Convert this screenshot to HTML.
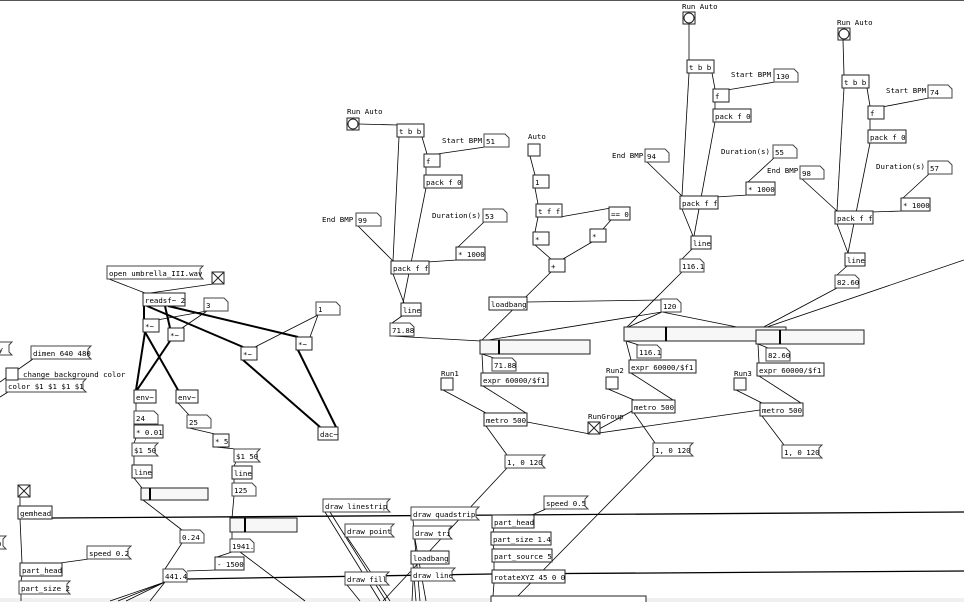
<!DOCTYPE html>
<html><head><meta charset="utf-8"><style>
html,body{margin:0;padding:0;background:#fff}
svg{display:block}
text{font-family:"DejaVu Sans Mono","Liberation Mono",monospace;font-size:7.4px;fill:#000}
.o{fill:#fff;stroke:#222;stroke-width:1}
.m{fill:#fff;stroke:#444;stroke-width:1}
.w{stroke:#000;stroke-width:0.8;fill:none}
.s{stroke:#000;stroke-width:2;fill:none}
.sl{fill:#f7f7f7;stroke:#222;stroke-width:1}
</style></head><body>
<svg width="964" height="602" viewBox="0 0 964 602" xmlns="http://www.w3.org/2000/svg">
<rect x="0" y="0" width="964" height="602" fill="#fff"/>
<line x1="0" y1="0.5" x2="964" y2="0.5" stroke="#555" stroke-width="1"/>
<rect x="0" y="598" width="964" height="4" fill="#f0f0f0"/>

<g class="w">
<line x1="359" y1="124" x2="398" y2="125"/>
<line x1="399" y1="137" x2="393" y2="261"/>
<line x1="422" y1="137" x2="427" y2="154"/>
<line x1="485" y1="147" x2="437" y2="154"/>
<line x1="426" y1="167" x2="426" y2="175"/>
<line x1="426" y1="188" x2="403" y2="303"/>
<line x1="358" y1="226" x2="393" y2="261"/>
<line x1="484" y1="222" x2="458" y2="247"/>
<line x1="457" y1="260" x2="427" y2="262"/>
<line x1="393" y1="274" x2="404" y2="303"/>
<line x1="402" y1="316" x2="392" y2="323"/>
<line x1="391" y1="336" x2="481" y2="341"/>
<line x1="530" y1="156" x2="535" y2="175"/>
<line x1="535" y1="188" x2="538" y2="204"/>
<line x1="538" y1="217" x2="535" y2="232"/>
<line x1="560" y1="217" x2="611" y2="208"/>
<line x1="611" y1="220" x2="603" y2="229"/>
<line x1="535" y1="245" x2="551" y2="259"/>
<line x1="592" y1="242" x2="563" y2="259"/>
<line x1="551" y1="272" x2="482" y2="340"/>
<line x1="527" y1="302" x2="661" y2="300"/>
<line x1="662" y1="312" x2="482" y2="341"/>
<line x1="662" y1="312" x2="626" y2="328"/>
<line x1="662" y1="312" x2="757" y2="331"/>
<line x1="482" y1="354" x2="494" y2="358"/>
<line x1="482" y1="354" x2="483" y2="373"/>
<line x1="483" y1="386" x2="526" y2="413"/>
<line x1="443" y1="390" x2="486" y2="413"/>
<line x1="486" y1="426" x2="507" y2="455"/>
<line x1="527" y1="422" x2="590" y2="434"/>
<line x1="590" y1="434" x2="634" y2="410"/>
<line x1="592" y1="434" x2="760" y2="410"/>
<line x1="507" y1="468" x2="383" y2="601"/>
<line x1="655" y1="456" x2="513" y2="601"/>
<line x1="689" y1="24" x2="689" y2="60"/>
<line x1="689" y1="73" x2="682" y2="196"/>
<line x1="712" y1="73" x2="715" y2="89"/>
<line x1="775" y1="82" x2="727" y2="90"/>
<line x1="715" y1="102" x2="715" y2="109"/>
<line x1="715" y1="122" x2="694" y2="236"/>
<line x1="647" y1="162" x2="682" y2="196"/>
<line x1="774" y1="158" x2="748" y2="182"/>
<line x1="748" y1="195" x2="716" y2="197"/>
<line x1="682" y1="209" x2="693" y2="236"/>
<line x1="692" y1="249" x2="682" y2="259"/>
<line x1="682" y1="272" x2="626" y2="328"/>
<line x1="626" y1="341" x2="639" y2="345"/>
<line x1="626" y1="341" x2="631" y2="360"/>
<line x1="631" y1="373" x2="673" y2="400"/>
<line x1="608" y1="389" x2="634" y2="400"/>
<line x1="634" y1="413" x2="655" y2="443"/>
<line x1="843" y1="40" x2="844" y2="75"/>
<line x1="844" y1="88" x2="837" y2="211"/>
<line x1="867" y1="88" x2="870" y2="106"/>
<line x1="929" y1="98" x2="882" y2="107"/>
<line x1="870" y1="119" x2="870" y2="130"/>
<line x1="870" y1="143" x2="848" y2="253"/>
<line x1="802" y1="179" x2="837" y2="211"/>
<line x1="929" y1="174" x2="903" y2="198"/>
<line x1="903" y1="211" x2="871" y2="212"/>
<line x1="837" y1="224" x2="848" y2="253"/>
<line x1="847" y1="266" x2="837" y2="275"/>
<line x1="837" y1="288" x2="758" y2="330"/>
<line x1="758" y1="344" x2="768" y2="348"/>
<line x1="758" y1="344" x2="759" y2="363"/>
<line x1="759" y1="376" x2="801" y2="403"/>
<line x1="736" y1="390" x2="762" y2="403"/>
<line x1="762" y1="416" x2="784" y2="445"/>
<line x1="964" y1="260" x2="758" y2="330"/>
<line x1="109" y1="279" x2="145" y2="293"/>
<line x1="213" y1="284" x2="150" y2="293"/>
<line x1="207" y1="311" x2="157" y2="320"/>
<line x1="207" y1="311" x2="182" y2="328"/>
<line x1="318" y1="315" x2="255" y2="347"/>
<line x1="318" y1="315" x2="310" y2="337"/>
<line x1="136" y1="403" x2="136" y2="411"/>
<line x1="178" y1="403" x2="189" y2="415"/>
<line x1="136" y1="438" x2="134" y2="443"/>
<line x1="134" y1="456" x2="134" y2="465"/>
<line x1="134" y1="478" x2="142" y2="488"/>
<line x1="143" y1="500" x2="182" y2="530"/>
<line x1="189" y1="428" x2="215" y2="434"/>
<line x1="215" y1="447" x2="236" y2="449"/>
<line x1="236" y1="462" x2="234" y2="466"/>
<line x1="234" y1="479" x2="234" y2="483"/>
<line x1="234" y1="496" x2="232" y2="518"/>
<line x1="232" y1="532" x2="232" y2="539"/>
<line x1="232" y1="552" x2="217" y2="557"/>
<line x1="240" y1="552" x2="305" y2="601"/>
<line x1="182" y1="543" x2="165" y2="569"/>
<line x1="216" y1="570" x2="187" y2="571"/>
<line x1="165" y1="582" x2="110" y2="601"/>
<line x1="165" y1="582" x2="118" y2="601"/>
<line x1="165" y1="582" x2="126" y2="601"/>
<line x1="165" y1="582" x2="150" y2="601"/>
<line x1="33" y1="359" x2="0" y2="382"/>
<line x1="8" y1="392" x2="0" y2="397"/>
<line x1="20" y1="497" x2="20" y2="506"/>
<line x1="20" y1="519" x2="22" y2="563"/>
<line x1="89" y1="559" x2="60" y2="563"/>
<line x1="22" y1="576" x2="21" y2="581"/>
<line x1="21" y1="594" x2="21" y2="601"/>
<line x1="325" y1="512" x2="380" y2="601"/>
<line x1="330" y1="512" x2="386" y2="601"/>
<line x1="347" y1="537" x2="390" y2="601"/>
<line x1="347" y1="585" x2="360" y2="601"/>
<line x1="413" y1="520" x2="420" y2="601"/>
<line x1="415" y1="539" x2="426" y2="601"/>
<line x1="413" y1="564" x2="416" y2="601"/>
<line x1="413" y1="581" x2="412" y2="601"/>
<line x1="546" y1="509" x2="532" y2="515"/>
<line x1="494" y1="528" x2="493" y2="532"/>
<line x1="493" y1="545" x2="494" y2="549"/>
<line x1="494" y1="562" x2="494" y2="570"/>
<line x1="494" y1="583" x2="493" y2="596"/>
</g>
<g stroke="#000" stroke-width="1.3" fill="none">
<line x1="52" y1="518" x2="964" y2="512"/>
<line x1="187" y1="579" x2="492" y2="574"/>
<line x1="492" y1="574" x2="964" y2="571"/>
</g>
<g class="s">
<line x1="144" y1="306" x2="144" y2="319"/>
<line x1="165" y1="306" x2="170" y2="328"/>
<line x1="147" y1="306" x2="243" y2="347"/>
<line x1="168" y1="306" x2="298" y2="337"/>
<line x1="145" y1="332" x2="136" y2="390"/>
<line x1="145" y1="332" x2="178" y2="390"/>
<line x1="170" y1="341" x2="137" y2="390"/>
<line x1="243" y1="360" x2="320" y2="427"/>
<line x1="298" y1="350" x2="336" y2="427"/>
</g>

<g class="o">
<rect x="397" y="124" width="27" height="13"/><rect x="424" y="154" width="16" height="13"/><rect x="424" y="175" width="38" height="13"/><rect x="456" y="247" width="29" height="13"/><rect x="391" y="261" width="38" height="13"/><rect x="401" y="303" width="20" height="13"/>
<rect x="533" y="175" width="16" height="13"/><rect x="536" y="204" width="26" height="13"/><rect x="609" y="207" width="21" height="13"/><rect x="533" y="232" width="16" height="13"/><rect x="590" y="229" width="16" height="13"/><rect x="549" y="259" width="16" height="13"/><rect x="489" y="297" width="38" height="13"/><rect x="481" y="373" width="67" height="13"/><rect x="484" y="413" width="43" height="13"/>
<rect x="687" y="60" width="27" height="13"/><rect x="713" y="89" width="16" height="13"/><rect x="713" y="109" width="38" height="13"/><rect x="746" y="182" width="29" height="13"/><rect x="680" y="196" width="38" height="13"/><rect x="691" y="236" width="20" height="13"/><rect x="629" y="360" width="67" height="13"/><rect x="632" y="400" width="43" height="13"/>
<rect x="842" y="75" width="27" height="13"/><rect x="868" y="106" width="16" height="13"/><rect x="868" y="130" width="38" height="13"/><rect x="901" y="198" width="29" height="13"/><rect x="835" y="211" width="38" height="13"/><rect x="845" y="253" width="20" height="13"/><rect x="757" y="363" width="67" height="13"/><rect x="760" y="403" width="43" height="13"/>
<rect x="143" y="293" width="42" height="13"/><rect x="143" y="319" width="16" height="13"/><rect x="168" y="328" width="16" height="13"/><rect x="241" y="347" width="16" height="13"/><rect x="296" y="337" width="16" height="13"/><rect x="318" y="427" width="20" height="13"/><rect x="134" y="390" width="22" height="13"/><rect x="176" y="390" width="22" height="13"/><rect x="134" y="425" width="29" height="13"/><rect x="132" y="465" width="20" height="13"/><rect x="213" y="434" width="16" height="13"/><rect x="232" y="466" width="20" height="13"/><rect x="215" y="557" width="29" height="13"/><rect x="18" y="506" width="34" height="13"/><rect x="20" y="563" width="42" height="13"/><rect x="411" y="551" width="38" height="13"/><rect x="492" y="515" width="42" height="13"/><rect x="491" y="532" width="60" height="13"/><rect x="492" y="549" width="60" height="13"/><rect x="492" y="570" width="73" height="13"/><rect x="491" y="596" width="155" height="13"/>
</g>
<g class="m">
<polygon points="484,134 505,134 509,138 509,147 484,147"/>
<polygon points="356,213 377,213 381,217 381,226 356,226"/>
<polygon points="483,209 503,209 507,213 507,222 483,222"/>
<polygon points="390,323 410,323 414,327 414,336 390,336"/>
<polygon points="661,299 677,299 681,303 681,312 661,312"/>
<polygon points="492,358 512,358 516,362 516,371 492,371"/>
<polygon points="774,69 794,69 798,73 798,82 774,82"/>
<polygon points="645,149 665,149 669,153 669,162 645,162"/>
<polygon points="773,145 793,145 797,149 797,158 773,158"/>
<polygon points="680,259 700,259 704,263 704,272 680,272"/>
<polygon points="637,345 657,345 661,349 661,358 637,358"/>
<polygon points="928,85 948,85 952,89 952,98 928,98"/>
<polygon points="800,166 820,166 824,170 824,179 800,179"/>
<polygon points="928,161 948,161 952,165 952,174 928,174"/>
<polygon points="835,275 855,275 859,279 859,288 835,288"/>
<polygon points="766,348 786,348 790,352 790,361 766,361"/>
<polygon points="204,298 224,298 228,302 228,311 204,311"/>
<polygon points="316,302 336,302 340,306 340,315 316,315"/>
<polygon points="134,411 154,411 158,415 158,424 134,424"/>
<polygon points="187,415 207,415 211,419 211,428 187,428"/>
<polygon points="232,483 252,483 256,487 256,496 232,496"/>
<polygon points="230,539 250,539 254,543 254,552 230,552"/>
<polygon points="180,530 200,530 204,534 204,543 180,543"/>
<polygon points="163,569 183,569 187,573 187,582 163,582"/>
</g>
<g class="m">
<polygon points="107,266 203,266 200,269 200,276 203,279 107,279"/>
<polygon points="505,455 545,455 542,458 542,465 545,468 505,468"/>
<polygon points="653,443 693,443 690,446 690,453 693,456 653,456"/>
<polygon points="782,445 822,445 819,448 819,455 822,458 782,458"/>
<polygon points="31,346 91,346 88,349 88,356 91,359 31,359"/>
<polygon points="6,379 86,379 83,382 83,389 86,392 6,392"/>
<polygon points="-10,342 12,342 9,345 9,352 12,355 -10,355"/>
<polygon points="-10,536 6,536 3,539 3,546 6,549 -10,549"/>
<polygon points="132,443 158,443 155,446 155,453 158,456 132,456"/>
<polygon points="234,449 260,449 257,452 257,459 260,462 234,462"/>
<polygon points="87,546 131,546 128,549 128,556 131,559 87,559"/>
<polygon points="19,581 70,581 67,584 67,591 70,594 19,594"/>
<polygon points="323,499 390,499 387,502 387,509 390,512 323,512"/>
<polygon points="345,524 394,524 391,527 391,534 394,537 345,537"/>
<polygon points="345,572 389,572 386,575 386,582 389,585 345,585"/>
<polygon points="411,507 479,507 476,510 476,517 479,520 411,520"/>
<polygon points="413,526 452,526 449,529 449,536 452,539 413,539"/>
<polygon points="411,568 455,568 452,571 452,578 455,581 411,581"/>
<polygon points="544,496 588,496 585,499 585,506 588,509 544,509"/>
</g>
<g>
<rect class="sl" x="480" y="340" width="110" height="14"/><line x1="499" y1="340" x2="499" y2="354" stroke="#000" stroke-width="2"/>
<rect class="sl" x="624" y="327" width="162" height="14"/><line x1="666" y1="327" x2="666" y2="341" stroke="#000" stroke-width="2"/>
<rect class="sl" x="756" y="330" width="108" height="14"/><line x1="780" y1="330" x2="780" y2="344" stroke="#000" stroke-width="2"/>
<rect class="sl" x="141" y="488" width="67" height="12"/><line x1="150" y1="488" x2="150" y2="500" stroke="#000" stroke-width="2"/>
<rect class="sl" x="230" y="518" width="67" height="14"/><line x1="245" y1="518" x2="245" y2="532" stroke="#000" stroke-width="2"/>
</g>
<g fill="#fff" stroke="#222">
<rect x="347" y="118" width="12" height="12"/><circle cx="353" cy="124" r="5"/>
<rect x="683" y="12" width="12" height="12"/><circle cx="689" cy="18" r="5"/>
<rect x="838" y="28" width="12" height="12"/><circle cx="844" cy="34" r="5"/>
<rect x="528" y="144" width="12" height="12"/>
<rect x="441" y="378" width="12" height="12"/>
<rect x="606" y="377" width="12" height="12"/>
<rect x="734" y="378" width="12" height="12"/>
<rect x="588" y="422" width="12" height="12"/><path d="M588,422 L600,434 M600,422 L588,434"/>
<rect x="212" y="272" width="12" height="12"/><path d="M212,272 L224,284 M224,272 L212,284"/>
<rect x="6" y="368" width="12" height="12"/>
<rect x="18" y="485" width="12" height="12"/><path d="M18,485 L30,497 M30,485 L18,497"/>
</g>
<g>
<text x="347" y="114">Run Auto</text><text x="399" y="134">t b b</text><text x="442" y="143">Start BPM</text><text x="486" y="144">51</text>
<text x="426" y="164">f</text><text x="426" y="185">pack f 0</text><text x="322" y="222">End BMP</text><text x="358" y="223">99</text>
<text x="432" y="218">Duration(s)</text><text x="485" y="219">53</text><text x="458" y="257">* 1000</text><text x="393" y="271">pack f f</text>
<text x="403" y="313">line</text><text x="392" y="333">71.88</text>
<text x="528" y="139">Auto</text><text x="535" y="185">1</text><text x="538" y="214">t f f</text><text x="611" y="217">== 0</text>
<text x="535" y="242">*</text><text x="592" y="239">*</text><text x="551" y="269">+</text><text x="491" y="307">loadbang</text>
<text x="663" y="309">120</text><text x="494" y="368">71.88</text><text x="483" y="383">expr 60000/$f1</text><text x="441" y="376">Run1</text>
<text x="486" y="423">metro 500</text><text x="507" y="465">1, 0 120</text><text x="588" y="419">RunGroup</text>
<text x="682" y="9">Run Auto</text><text x="689" y="70">t b b</text><text x="731" y="77">Start BPM</text><text x="776" y="79">130</text>
<text x="715" y="99">f</text><text x="715" y="119">pack f 0</text><text x="612" y="158">End BMP</text><text x="647" y="159">94</text>
<text x="721" y="154">Duration(s)</text><text x="775" y="155">55</text><text x="748" y="192">* 1000</text><text x="682" y="206">pack f f</text>
<text x="693" y="246">line</text><text x="682" y="269">116.1</text><text x="639" y="355">116.1</text><text x="631" y="370">expr 60000/$f1</text>
<text x="606" y="373">Run2</text><text x="634" y="410">metro 500</text><text x="655" y="453">1, 0 120</text>
<text x="837" y="25">Run Auto</text><text x="844" y="85">t b b</text><text x="886" y="93">Start BPM</text><text x="930" y="95">74</text>
<text x="870" y="116">f</text><text x="870" y="140">pack f 0</text><text x="767" y="173">End BMP</text><text x="802" y="176">98</text>
<text x="876" y="169">Duration(s)</text><text x="930" y="171">57</text><text x="903" y="208">* 1000</text><text x="837" y="221">pack f f</text>
<text x="847" y="263">line</text><text x="837" y="285">82.60</text><text x="768" y="358">82.60</text><text x="759" y="373">expr 60000/$f1</text>
<text x="734" y="376">Run3</text><text x="762" y="413">metro 500</text><text x="784" y="455">1, 0 120</text>
<text x="109" y="276">open umbrella_III.wav</text><text x="145" y="303">readsf~ 2</text><text x="206" y="308">3</text><text x="318" y="312">1</text>
<text x="145" y="329">*~</text><text x="170" y="338">*~</text><text x="243" y="357">*~</text><text x="298" y="347">*~</text><text x="320" y="437">dac~</text>
<text x="-6" y="352">oy</text><text x="33" y="356">dimen 640 480</text><text x="23" y="377">change background color</text><text x="8" y="389">color $1 $1 $1 $1</text>
<text x="136" y="400">env~</text><text x="178" y="400">env~</text><text x="136" y="421">24</text><text x="136" y="435">* 0.01</text>
<text x="134" y="453">$1 50</text><text x="134" y="475">line</text><text x="189" y="425">25</text><text x="215" y="444">* 5</text>
<text x="236" y="459">$1 50</text><text x="234" y="476">line</text><text x="234" y="493">125</text><text x="232" y="549">1941.</text>
<text x="217" y="567">- 1500</text><text x="182" y="540">0.24</text><text x="165" y="579">441.4</text>
<text x="20" y="516">gemhead</text><text x="89" y="556">speed 0.2</text><text x="22" y="573">part_head</text><text x="21" y="591">part_size 2</text><text x="-3" y="546">p</text>
<text x="325" y="509">draw linestrip</text><text x="347" y="534">draw point</text><text x="347" y="582">draw fill</text>
<text x="413" y="517">draw quadstrip</text><text x="415" y="536">draw tri</text><text x="413" y="561">loadbang</text><text x="413" y="578">draw line</text>
<text x="546" y="506">speed 0.5</text><text x="494" y="525">part_head</text><text x="493" y="542">part_size 1.4</text><text x="494" y="559">part_source 5</text><text x="494" y="580">rotateXYZ 45 0 0</text>
</g>
</svg>
</body></html>
